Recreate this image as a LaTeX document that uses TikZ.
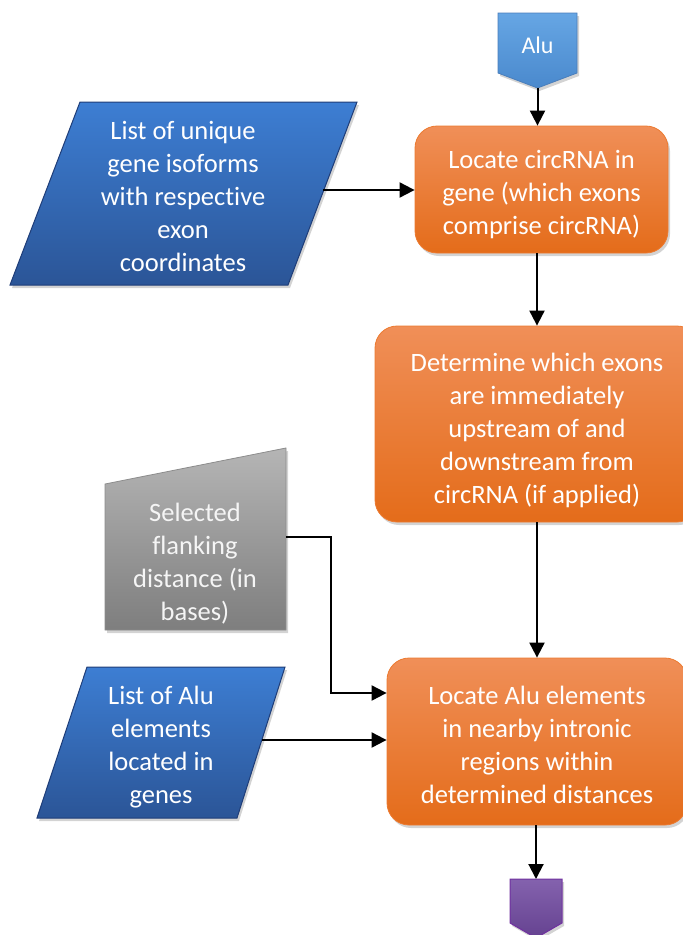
\documentclass[tikz,border=0pt]{standalone}
\usepackage{fontspec}
\setmainfont{Carlito}[Ligatures={NoCommon}]
\usetikzlibrary{arrows.meta,shadows}

\definecolor{blueTop}{HTML}{3D7ED3}
\definecolor{blueBot}{HTML}{2B5597}
\definecolor{blueEdge}{HTML}{1F3D78}
\definecolor{orTop}{HTML}{F08F58}
\definecolor{orBot}{HTML}{E46C1A}
\definecolor{orEdge}{HTML}{EC7A30}
\definecolor{grTop}{HTML}{B5B5B5}
\definecolor{grBot}{HTML}{7E7E7E}
\definecolor{grEdge}{HTML}{8C8C8C}
\definecolor{puTop}{HTML}{8462AE}
\definecolor{puBot}{HTML}{654290}
\definecolor{puEdge}{HTML}{7030A0}
\definecolor{ltTop}{HTML}{66A6E4}
\definecolor{ltBot}{HTML}{4A89CD}
\definecolor{ltEdge}{HTML}{4A7EBB}

\tikzset{
  boxtext/.style={text=white, align=center, font=\fontsize{26.5}{33}\selectfont},
  shade/.style={drop shadow={opacity=0.35, shadow xshift=2pt, shadow yshift=-3pt}},
  procbox/.style={shade, rounded corners=22pt, draw=orEdge, line width=0.8pt,
    top color=orTop, bottom color=orBot, inner sep=0pt},
  datashape/.style={shade, draw=blueEdge, line width=1pt, top color=blueTop, bottom color=blueBot},
  manualshape/.style={shade, draw=grEdge, line width=0.8pt, top color=grTop, bottom color=grBot},
  flow/.style={line width=2pt, -{Triangle[length=15pt,width=15pt]}}
}

\begin{document}
\begin{tikzpicture}[x=1pt,y=-1pt]
\useasboundingbox (0,0) rectangle (683,935);
\clip (0,0) rectangle (683,935);

% off-page connector at the top
\path[shade, draw=ltEdge, line width=0.8pt, top color=ltTop, bottom color=ltBot]
  (498,13) -- (577,13) -- (577,73) -- (537.5,88) -- (498,73) -- cycle;
\node[boxtext, font=\fontsize{24}{30}\selectfont] (alutag) at (537.5,45) {Alu};
\coordinate (alutip) at (537.5,88);

% off-page connector at the bottom
\path[shade, draw=puEdge, line width=1pt, top color=puTop, bottom color=puBot]
  (510,879) -- (562,879) -- (562,923) -- (536,938) -- (510,923) -- cycle;
\coordinate (endtop) at (536,879);

% process steps
\node[procbox, minimum width=253pt, minimum height=127pt] (locate) at (541.5,189.5) {};
\node[boxtext] (locatetext) at ([yshift=-5pt]locate.center)
  {Locate circRNA in\\gene (which exons\\comprise circRNA)};
\node[procbox, minimum width=324pt, minimum height=196pt] (flank) at (537,424) {};
\node[boxtext] (flanktext) at ([yshift=-6pt]flank.center)
  {Determine which exons\\are immediately\\upstream of and\\downstream from\\circRNA (if applied)};
\node[procbox, minimum width=300pt, minimum height=167pt] (findalu) at (537,741.5) {};
\node[boxtext] (findalutext) at ([yshift=-3pt]findalu.center)
  {Locate Alu elements\\in nearby intronic\\regions within\\determined distances};

% data inputs
\path[datashape] (80,102) -- (357,102) -- (288,285) -- (10,285) -- cycle;
\node[boxtext] (isoforms) at (183,196)
  {List of unique\\gene isoforms\\with respective\\exon\\coordinates};
\coordinate (isoout) at (323,190);

\path[datashape] (87,667) -- (285,667) -- (237,818) -- (37,818) -- cycle;
\node[boxtext] (alulist) at (161,747)
  {List of Alu\\elements\\located in\\genes};
\coordinate (aluout) at (262,740);

% manual input
\path[manualshape] (105,484) -- (286,448) -- (286,630) -- (105,630) -- cycle;
\node[boxtext, text=white!92!gray] (distance) at (195,564)
  {Selected\\flanking\\distance (in\\bases)};
\coordinate (distout) at (286,537);
\coordinate (elbow) at (331,693);

% connectors
\draw[flow] (alutip) -- (alutip |- locate.north);
\draw[flow] (isoout) -- (isoout -| locate.west);
\draw[flow] (locate.south -| flank.north) -- (flank.north);
\draw[flow] (flank.south) -- (findalu.north);
\draw[flow] (distout) -| (elbow) -- (elbow -| findalu.west);
\draw[flow] (aluout) -- (aluout -| findalu.west);
\draw[flow] (findalu.south -| endtop) -- (endtop);
\end{tikzpicture}
\end{document}
